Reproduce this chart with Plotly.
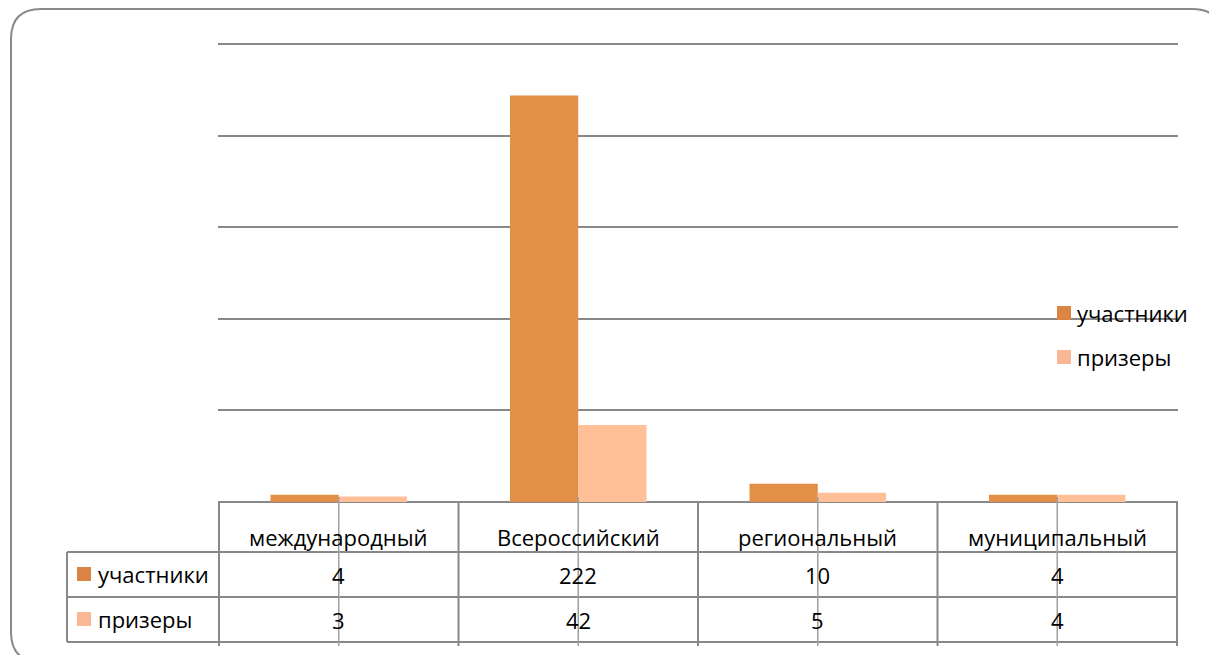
import plotly.graph_objects as go

# ---- data ----
categories = ["международный", "Всероссийский", "региональный", "муниципальный"]
series_names = ["участники", "призеры"]
participants = [4, 222, 10, 4]
winners = [3, 42, 5, 4]
series_values = [participants, winners]
series_colors = ["#E48F48", "#FFC098"]
marker_colors = ["#DC8443", "#F9B795"]
y_max = 250
y_step = 50

W, H = 1209, 655
L, R, T, B = 218, 31, 35, 153
PW = W - L - R
PH = H - T - B
GRAY = "#888888"
FONT = "Open Sans"
FS = 22


def px(x):
    return (x - L) / PW


def py(y):
    return (H - B - y) / PH


fig = go.Figure()
for name, vals, col in zip(series_names, series_values, series_colors):
    fig.add_trace(go.Bar(x=categories, y=vals, name=name, marker=dict(color=col, line=dict(width=0)),
                         showlegend=False, hoverinfo="skip"))

shapes = []
ann = []

# table horizontal lines
for yy in [552, 597, 642]:
    shapes.append(dict(type="line", xref="paper", yref="paper", x0=px(67), x1=px(1178), y0=py(yy), y1=py(yy),
                       line=dict(color=GRAY, width=2)))
# left column vertical
shapes.append(dict(type="line", xref="paper", yref="paper", x0=px(67), x1=px(67), y0=py(552), y1=py(642),
                   line=dict(color=GRAY, width=2)))
# category boundaries
n = len(categories)
for i in range(n + 1):
    shapes.append(dict(type="line", xref="x", yref="paper", x0=i - 0.5, x1=i - 0.5, y0=py(502), y1=py(646),
                       line=dict(color=GRAY, width=2)))
# center tick lines
for i in range(n):
    shapes.append(dict(type="line", xref="x", yref="paper", x0=i, x1=i, y0=py(497), y1=py(646),
                       line=dict(color="#A0A0A0", width=1.5)))

# table text
for i, c in enumerate(categories):
    ann.append(dict(x=c, xref="x", yref="paper", y=py(537), text=c, showarrow=False,
                    font=dict(family=FONT, size=FS, color="black"), yanchor="middle"))
    for r, vals in enumerate(series_values):
        ann.append(dict(x=c, xref="x", yref="paper", y=py(575 + 45 * r), text=str(vals[i]), showarrow=False,
                        font=dict(family=FONT, size=FS, color="black"), yanchor="middle"))

# table row headers
for r, (name, col) in enumerate(zip(series_names, marker_colors)):
    cy = 574 + 45 * r
    shapes.append(dict(type="rect", xref="paper", yref="paper", x0=px(77), x1=px(91), y0=py(cy - 7), y1=py(cy + 7),
                       fillcolor=col, line=dict(width=0)))
    ann.append(dict(x=px(96), xref="paper", yref="paper", y=py(cy), text=name, showarrow=False,
                    xanchor="left", yanchor="middle", font=dict(family=FONT, size=FS, color="black")))

# right legend
for r, (name, col) in enumerate(zip(series_names, marker_colors)):
    cy = 313 + 44 * r
    shapes.append(dict(type="rect", xref="paper", yref="paper", x0=px(1057), x1=px(1071), y0=py(cy - 7), y1=py(cy + 7),
                       fillcolor=col, line=dict(width=0)))
    ann.append(dict(x=px(1075), xref="paper", yref="paper", y=py(cy), text=name, showarrow=False,
                    xanchor="left", yanchor="middle", font=dict(family=FONT, size=FS, color="black")))

# outer rounded frame
x0, x1, y0, y1, rr = 11, 1222, 9, 662, 30
path = (f"M {px(x0)},{py(y0 + rr)} "
        f"Q {px(x0)},{py(y0)} {px(x0 + rr)},{py(y0)} "
        f"L {px(x1 - rr)},{py(y0)} "
        f"Q {px(x1)},{py(y0)} {px(x1)},{py(y0 + rr)} "
        f"L {px(x1)},{py(y1 - rr)} "
        f"Q {px(x1)},{py(y1)} {px(x1 - rr)},{py(y1)} "
        f"L {px(x0 + rr)},{py(y1)} "
        f"Q {px(x0)},{py(y1)} {px(x0)},{py(y1 - rr)} Z")
shapes.append(dict(type="path", xref="paper", yref="paper", path=path, line=dict(color="#8A8A8A", width=2),
                   layer="below"))

fig.update_layout(
    width=W, height=H,
    margin=dict(l=L, r=R, t=T, b=B),
    paper_bgcolor="white", plot_bgcolor="white",
    barmode="group", bargap=0.43, bargroupgap=0,
    shapes=shapes, annotations=ann,
    font=dict(family=FONT, size=FS, color="black"),
    xaxis=dict(showticklabels=False, showgrid=False, showline=False, ticks="", zeroline=False),
    yaxis=dict(range=[0, y_max + 5], dtick=y_step, showticklabels=False, showgrid=True, gridcolor=GRAY,
               gridwidth=2, zeroline=True, zerolinecolor=GRAY, zerolinewidth=2, showline=False, ticks=""),
)

fig.write_html("out.html", config={"displayModeBar": False},
               post_script="document.body.style.margin='0';document.body.style.overflow='hidden';")
